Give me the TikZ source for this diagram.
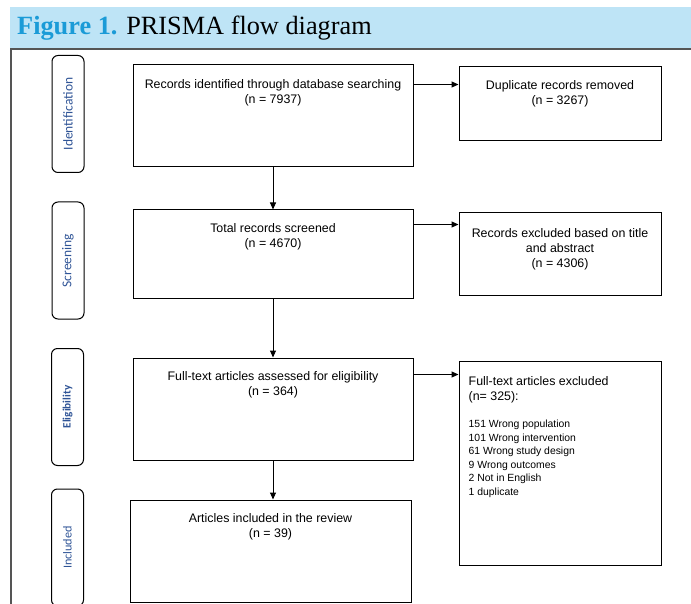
\documentclass[tikz,border=0pt]{standalone}
\usepackage{fontspec}
\setmainfont{Liberation Sans}
\newfontfamily\titulo{Liberation Serif}
\newfontfamily\etiqueta{Carlito}
\usetikzlibrary{positioning,arrows.meta}

\definecolor{azulbanda}{RGB}{190,228,246}
\definecolor{azultitulo}{RGB}{27,155,215}
\definecolor{azulfase}{RGB}{47,84,150}
\definecolor{marco}{RGB}{85,85,85}

\tikzset{
  caja/.style={draw, line width=1pt, inner sep=0pt},
  fase/.style={draw, line width=1pt, rounded corners=6pt, rotate=90,
    minimum width=117pt, minimum height=32pt, inner sep=0pt,
    text=azulfase, font=\etiqueta\fontsize{13.5}{15}\selectfont},
  texto/.style={align=center, inner sep=0pt, font=\fontsize{12.4}{15}\selectfont},
  lista/.style={align=left, inner sep=0pt},
  flecha/.style={-{Triangle[length=7pt,width=6pt]}, line width=1pt},
}

\begin{document}
\begin{tikzpicture}[x=1pt,y=-1pt]
  \clip (0,0) rectangle (691,604);

  % Banda del titulo
  \fill[azulbanda] (10,7) rectangle (691,48);
  \node[anchor=base west, inner sep=0pt, font=\titulo\fontsize{26.3}{28}\selectfont] (tit) at (17,35)
    {\textcolor{azultitulo}{\bfseries Figure 1.} PRISMA flow diagram};
  % Marco
  \draw[marco, line width=1.2pt] (11,610) -- (11,49) -- (695,49);

  % Fases
  \node[fase] (f1) at (68,114) {Identification};
  \node[fase] (f2) at (68,260.5) {Screening};
  \node[fase, font=\etiqueta\bfseries\fontsize{11.3}{13}\selectfont] (f3) at (67.5,407) {Eligibility};
  \node[fase, font=\etiqueta\fontsize{12.2}{14}\selectfont] (f4) at (67.5,547.5) {Included};

  % Cajas de la izquierda
  \node[caja, minimum width=280pt, minimum height=102pt] (ident) at (273,116) {};
  \node[texto, below=15pt of ident.north] (tident) {Records identified through database searching\\(n = 7937)};

  \node[caja, minimum width=280pt, minimum height=88pt] (scr) at (273,254) {};
  \node[texto, below=14pt of scr.north] (tscr) {Total records screened\\(n = 4670)};

  \node[caja, minimum width=280pt, minimum height=102pt] (elig) at (273,409) {};
  \node[texto, below=14pt of elig.north] (telig) {Full-text articles assessed for eligibility\\(n = 364)};

  \node[caja, minimum width=281pt, minimum height=102pt] (incl) at (270.5,551) {};
  \node[texto, below=14pt of incl.north] (tincl) {Articles included in the review\\(n = 39)};

  % Cajas de la derecha
  \node[caja, minimum width=202pt, minimum height=74pt] (dup) at (560,104) {};
  \node[texto, below=14pt of dup.north] (tdup) {Duplicate records removed\\(n = 3267)};

  \node[caja, minimum width=202pt, minimum height=82pt] (excl) at (560,254) {};
  \node[texto, below=16pt of excl.north] (texcl) {Records excluded based on title\\and abstract\\(n = 4306)};

  \node[caja, minimum width=202pt, minimum height=204pt] (excl2) at (560,463) {};
  \node[lista, anchor=north west, font=\fontsize{12.4}{14.5}\selectfont] (texcl2) at ([xshift=10pt,yshift=-16pt]excl2.north west)
    {Full-text articles excluded\\(n= 325):};
  \node[lista, below=17pt of texcl2.south west, anchor=north west, font=\fontsize{10.4}{13.5}\selectfont] (motivos)
    {151 Wrong population\\101 Wrong intervention\\61 Wrong study design\\9 Wrong outcomes\\2 Not in English\\1 duplicate};

  % Flechas
  \draw[flecha] (ident.south) -- (scr.north);
  \draw[flecha] (scr.south) -- (elig.north);
  \draw[flecha] (elig.south) -- (elig.south |- incl.north);

  \coordinate (s1) at ([yshift=-20pt]ident.north east);
  \coordinate (s2) at ([yshift=-15pt]scr.north east);
  \coordinate (s3) at ([yshift=-17pt]elig.north east);
  \draw[flecha] (s1) -- (s1 -| dup.west);
  \draw[flecha] (s2) -- (s2 -| excl.west);
  \draw[flecha] (s3) -- (s3 -| excl2.west);
\end{tikzpicture}
\end{document}
